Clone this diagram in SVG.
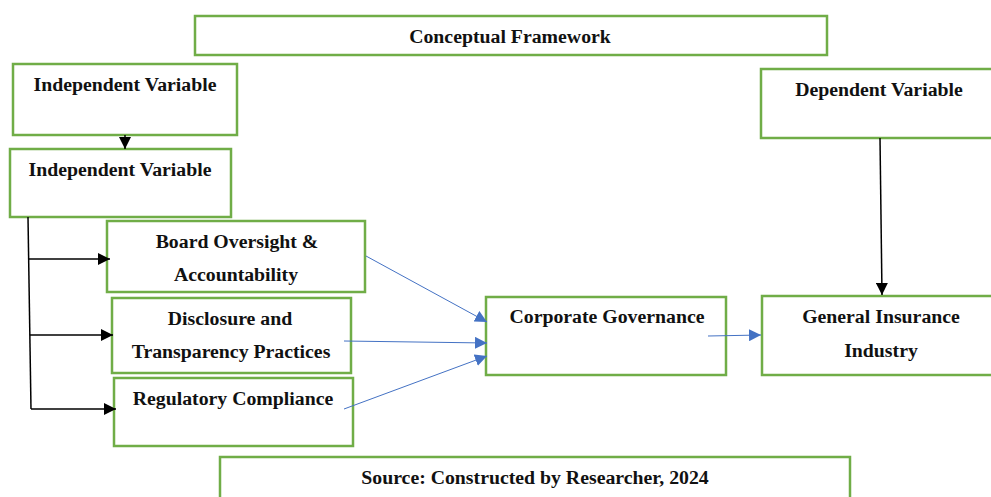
<svg xmlns="http://www.w3.org/2000/svg" width="991" height="497" viewBox="0 0 991 497">
  <style>
    .box { fill: #ffffff; stroke: #70ad47; stroke-width: 2.5; }
    .lbl { font-family: "Liberation Serif", "Times New Roman", serif; font-weight: bold; font-size: 19.8px; fill: #111111; text-anchor: middle; }
    .blk { stroke: #000000; stroke-width: 1.5; fill: none; }
    .blu { stroke: #4472c4; stroke-width: 1; fill: none; }
  </style>
  <defs>
    <marker id="headBlack" viewBox="0 0 10 10" refX="10" refY="5" markerWidth="13" markerHeight="12" markerUnits="userSpaceOnUse" orient="auto">
      <path d="M0,0 L10,5 L0,10 Z" fill="#000000"/>
    </marker>
    <marker id="headBlue" viewBox="0 0 10 10" refX="10" refY="5" markerWidth="12" markerHeight="12" markerUnits="userSpaceOnUse" orient="auto">
      <path d="M0,0 L10,5 L0,10 Z" fill="#4472c4"/>
    </marker>
  </defs>

  <g id="title">
    <rect class="box" x="195" y="16" width="632" height="39"/>
    <text class="lbl" x="510" y="43">Conceptual Framework</text>
  </g>

  <g id="independent-variable-top">
    <rect class="box" x="13" y="64" width="224" height="71"/>
    <text class="lbl" x="125" y="91">Independent Variable</text>
  </g>

  <g id="independent-variable">
    <rect class="box" x="10" y="149" width="221" height="68"/>
    <text class="lbl" x="120" y="176">Independent Variable</text>
  </g>

  <g id="board-oversight">
    <rect class="box" x="107" y="221" width="258" height="71"/>
    <text class="lbl" x="237" y="248">Board Oversight &amp;</text>
    <text class="lbl" x="236" y="281">Accountability</text>
  </g>

  <g id="disclosure">
    <rect class="box" x="112" y="298" width="239" height="75"/>
    <text class="lbl" x="230" y="325">Disclosure and</text>
    <text class="lbl" x="231" y="358">Transparency Practices</text>
  </g>

  <g id="regulatory">
    <rect class="box" x="114" y="378" width="239" height="68"/>
    <text class="lbl" x="233" y="405">Regulatory Compliance</text>
  </g>

  <g id="corporate-governance">
    <rect class="box" x="486" y="297" width="240" height="78"/>
    <text class="lbl" x="607" y="323">Corporate Governance</text>
  </g>

  <g id="dependent-variable">
    <rect class="box" x="761" y="69" width="232" height="69"/>
    <text class="lbl" x="879" y="96">Dependent Variable</text>
  </g>

  <g id="general-insurance">
    <rect class="box" x="762" y="296" width="231" height="79"/>
    <text class="lbl" x="881" y="323">General Insurance</text>
    <text class="lbl" x="881" y="357">Industry</text>
  </g>

  <g id="source">
    <rect class="box" x="220" y="457" width="630" height="45"/>
    <text class="lbl" x="535" y="484">Source: Constructed by Researcher, 2024</text>
  </g>

  <g id="connectors">
    <!-- top box into second independent box -->
    <path class="blk" d="M125,135 L125,149" marker-end="url(#headBlack)"/>
    <!-- trunk and branches -->
    <path class="blk" d="M28,217 L31,409"/>
    <path class="blk" d="M28,259 L110,259" marker-end="url(#headBlack)"/>
    <path class="blk" d="M30,335 L113,335" marker-end="url(#headBlack)"/>
    <path class="blk" d="M31,409 L116,409" marker-end="url(#headBlack)"/>
    <!-- dimensions into corporate governance -->
    <path class="blu" d="M366,256 L487,322" marker-end="url(#headBlue)"/>
    <path class="blu" d="M344,341 L487,343" marker-end="url(#headBlue)"/>
    <path class="blu" d="M344,409 L487,356" marker-end="url(#headBlue)"/>
    <!-- corporate governance to industry -->
    <path class="blu" d="M708,336 L761,335" marker-end="url(#headBlue)"/>
    <!-- dependent variable down to industry -->
    <path class="blk" d="M880,138 L882,295" marker-end="url(#headBlack)"/>
  </g>
</svg>
